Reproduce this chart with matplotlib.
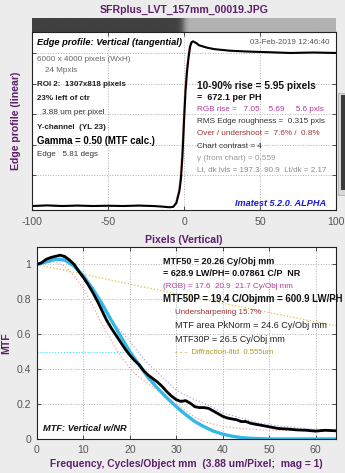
import numpy as np
import matplotlib
matplotlib.use('Agg')
import matplotlib.pyplot as plt
from matplotlib.patches import Rectangle

plt.rcParams['font.family'] = ['Liberation Sans', 'DejaVu Sans']
plt.rcParams['axes.unicode_minus'] = False

W, H = 345, 473

# ---- data ----
title = 'SFRplus_LVT_157mm_00019.JPG'

# edge profile (pixels, normalized level)
edge_px = [-100, -90, -80, -70, -60, -50, -40, -30, -20, -14, -11, -9, -7, -5, -4, -3, -2, -1,
           0, 1, 2, 3, 4, 5, 6, 8, 10, 15, 20, 30, 40, 55, 70, 85, 100]
edge_val = [0.0, 0.004, 0.0, 0.003, 0.0, 0.002, 0.0, 0.003, 0.0, -0.004, -0.007, -0.008, -0.005,
            0.02, 0.06, 0.1, 0.18, 0.33, 0.55, 0.75, 0.88, 0.97, 1.04, 1.07, 1.076, 1.065, 1.05,
            1.035, 1.025, 1.015, 1.01, 1.005, 1.0, 1.003, 1.0]

# MTF curves (cycles/object mm)
f_black = [0, 1, 2, 3, 4, 5, 6, 7, 8, 9, 10, 11, 12, 13, 14, 15, 16, 17, 18, 19, 20, 21, 22, 23,
           24, 25, 26, 27, 28, 29, 30, 31, 32, 33, 34, 35, 36, 37, 38, 39, 40, 41, 42, 43, 44, 45,
           46, 47, 48, 49, 50, 52, 54, 56, 58, 60, 62, 64.4]
mtf_black = [1.0, 1.01, 1.03, 1.04, 1.047, 1.053, 1.045, 1.025, 1.0, 0.96, 0.925, 0.885, 0.84,
             0.79, 0.735, 0.68, 0.635, 0.595, 0.555, 0.515, 0.48, 0.45, 0.425, 0.39, 0.365, 0.345,
             0.325, 0.3, 0.27, 0.245, 0.225, 0.215, 0.22, 0.205, 0.185, 0.18, 0.18, 0.175, 0.16,
             0.145, 0.13, 0.12, 0.115, 0.11, 0.1, 0.1, 0.09, 0.085, 0.08, 0.075, 0.07, 0.06, 0.057,
             0.052, 0.05, 0.045, 0.05, 0.047]

f_cyan = [0, 2, 4, 6, 8, 10, 12, 14, 16, 18, 20, 22, 24, 26, 28, 30, 32, 34, 36, 38, 40, 42, 44,
          46, 48, 50, 64.4]
mtf_cyan = [1.0, 1.015, 1.03, 1.025, 0.99, 0.935, 0.86, 0.775, 0.68, 0.59, 0.5, 0.425, 0.35,
            0.29, 0.235, 0.185, 0.14, 0.1, 0.07, 0.045, 0.028, 0.016, 0.008, 0.004, 0.002, 0.0, 0.0]

f_rgb = [0, 2, 4, 6, 8, 10, 12, 14, 16, 18, 20, 22, 24, 26, 28, 30, 32, 34, 36, 38, 40, 44, 48,
         52, 56, 60, 64.4]
mtf_red = [1.0, 1.01, 1.015, 0.99, 0.935, 0.86, 0.765, 0.655, 0.565, 0.475, 0.405, 0.355, 0.315,
           0.28, 0.24, 0.2, 0.16, 0.125, 0.1, 0.085, 0.072, 0.06, 0.053, 0.05, 0.05, 0.05, 0.05]
mtf_green = [1.0, 1.03, 1.05, 1.055, 1.01, 0.935, 0.85, 0.745, 0.645, 0.56, 0.485, 0.43, 0.37,
             0.33, 0.275, 0.23, 0.22, 0.19, 0.18, 0.165, 0.135, 0.105, 0.085, 0.065, 0.055,
             0.05, 0.05]
mtf_blue = [1.0, 1.02, 1.035, 1.04, 1.005, 0.935, 0.855, 0.755, 0.68, 0.62, 0.56, 0.49, 0.43,
            0.38, 0.33, 0.28, 0.25, 0.225, 0.205, 0.18, 0.15, 0.12, 0.09, 0.075, 0.065, 0.055,
            0.05]

f_diff = [0, 16, 32, 48, 64.4]
mtf_diff = [1.0, 0.91, 0.82, 0.735, 0.648]

mtf50p = 19.4

purple = '#5c1f6b'
magenta = '#b0389c'
darkred = '#a03232'


def fx(x):
    return x / W


def fy(y):
    return 1 - y / H


fig = plt.figure(figsize=(W / 100, H / 100), dpi=100, facecolor='#ececec')

fig.text(fx(184), fy(10), title, ha='center', va='center', fontsize=7.6,
         fontweight='bold', color=purple)

# ---- edge strip (image of the edge) ----
bar = fig.add_axes([fx(32), fy(32), fx(304), 14 / H])
xs = np.linspace(-100, 100, 400)
lv = np.interp(xs, edge_px, edge_val)
lv = np.clip(lv, 0, 1)
bar.imshow(lv[None, :], cmap='gray', vmin=-0.57, vmax=1.70, aspect='auto',
           extent=[-100, 100, 0, 1])
bar.set_axis_off()

# ---- edge profile axes ----
ax1 = fig.add_axes([fx(32), fy(210), fx(304), 178 / H])
ax1.plot(np.array(edge_px) - 0.6, edge_val, color='#f4a0a0', lw=0.8)
ax1.plot(edge_px, edge_val, color='black', lw=1.5)
ax1.set_xlim(-100, 100)
ax1.set_ylim(-0.026, 1.137)
ax1.set_xticks([-100, -50, 0, 50, 100])
ax1.set_yticks([0.2, 0.4, 0.6, 0.8, 1.0])
ax1.set_yticklabels([])
ax1.grid(True, linestyle=':', color='#b0b0b0', lw=0.7)
ax1.tick_params(direction='in', top=True, right=True, length=3, width=0.6,
                labelsize=7.6, colors='#333333', labelcolor='#555555', pad=5)
for s in ax1.spines.values():
    s.set_linewidth(0.8)
    s.set_color('#222222')
ax1.set_xlabel('Pixels (Vertical)', fontsize=7.6, fontweight='bold', color=purple, labelpad=6)
ax1.set_ylabel('Edge profile (linear)', fontsize=7.6, fontweight='bold', color=purple, labelpad=3)

t = ax1.transAxes
def at(x, y):
    return ((x - 32) / 304, (210 - y) / 178)

ax1.text(*at(37, 43), 'Edge profile: Vertical (tangential)', transform=t, fontsize=6.7,
         fontweight='bold', style='italic', va='center')
ax1.text(*at(330, 43), '03-Feb-2019 12:46:40', transform=t, fontsize=5.8, color='#555555',
         ha='right', va='center')
left_lines = [
    (37, 60, '6000 x 4000 pixels (WxH)', '#666666', 'normal', 5.9),
    (45, 71, '24 Mpxls', '#666666', 'normal', 5.9),
    (37, 85, 'ROI 2:  1307x818 pixels', '#222222', 'bold', 5.8),
    (37, 99, '23% left of ctr', '#222222', 'bold', 5.8),
    (42, 113, '3.88 um per pixel', '#333333', 'normal', 5.9),
    (37, 128, 'Y-channel  (YL 23)', '#222222', 'bold', 5.8),
    (37, 141, 'Gamma = 0.50 (MTF calc.)', 'black', 'bold', 6.9),
    (37, 154, 'Edge   5.81 degs', '#333333', 'normal', 5.8),
]
for x, y, s, c, w, fs in left_lines:
    ax1.text(*at(x, y), s, transform=t, fontsize=fs, color=c, fontweight=w, va='center')

right_lines = [
    (197, 86, '10-90% rise = 5.95 pixels', '#111111', 'bold', 7.3),
    (197, 98, '=  672.1 per PH', '#111111', 'bold', 6.5),
    (197, 110, 'RGB rise =   7.05    5.69     5.6 pxls', magenta, 'normal', 5.85),
    (197, 122, 'RMS Edge roughness =  0.315 pxls', '#333333', 'normal', 5.9),
    (197, 134, 'Over / undershoot =  7.6% /  0.8%', darkred, 'normal', 5.9),
    (197, 146, 'Chart contrast = 4', '#333333', 'normal', 5.9),
    (197, 158, '\u03b3 (from chart) = 0.559', '#999999', 'normal', 5.9),
    (197, 170, 'Lt, dk lvls = 197.3  90.9  Lt/dk = 2.17', '#888888', 'normal', 5.8),
]
for x, y, s, c, w, fs in right_lines:
    ax1.text(*at(x, y), s, transform=t, fontsize=fs, color=c, fontweight=w, va='center')
ax1.text(*at(326, 204), 'Imatest 5.2.0. ALPHA', transform=t, fontsize=6.6, color='#1a1ad8',
         fontweight='bold', style='italic', ha='right', va='center')

# stray panel at the right edge
fig.patches.append(Rectangle((fx(338), fy(195)), fx(8), 102 / H, transform=fig.transFigure,
                             facecolor='#d8d8d8', edgecolor='#b0b0b0', lw=0.6))
fig.patches.append(Rectangle((fx(341), fy(190)), fx(5), 95 / H, transform=fig.transFigure,
                             facecolor='#3a3a3a', edgecolor='none'))

# ---- MTF axes ----
ax2 = fig.add_axes([fx(37), fy(439), fx(299), 192 / H])
ax2.plot(f_diff, mtf_diff, color='#d8c040', lw=0.9, ls=':')
ax2.plot([0, mtf50p], [0.5, 0.5], color='#40e0f0', lw=0.8, ls=':')
ax2.plot(f_rgb, mtf_red, color='#f4a0a0', lw=0.9, ls=':')
ax2.plot(f_rgb, mtf_blue, color='#a8a8f4', lw=0.9, ls=':')
ax2.plot(f_rgb, mtf_green, color='#90e090', lw=0.9, ls=':')
ax2.plot(f_cyan, mtf_cyan, color='#33b8ea', lw=2.4)
ax2.plot(f_black, mtf_black, color='black', lw=2.0)
ax2.set_xlim(0, 64.4)
ax2.set_ylim(0, 1.1)
ax2.set_xticks([0, 10, 20, 30, 40, 50, 60])
ax2.set_yticks([0, 0.2, 0.4, 0.6, 0.8, 1.0])
ax2.set_yticklabels(['0', '0.2', '0.4', '0.6', '0.8', '1'])
ax2.grid(True, linestyle=':', color='#b0b0b0', lw=0.7)
ax2.tick_params(direction='in', top=True, right=True, length=3, width=0.6,
                labelsize=7.6, colors='#333333', labelcolor='#555555', pad=4)
for s in ax2.spines.values():
    s.set_linewidth(0.8)
    s.set_color('#222222')
ax2.set_xlabel('Frequency, Cycles/Object mm  (3.88 um/Pixel;  mag = 1)', fontsize=7.4,
               fontweight='bold', color=purple, labelpad=3)
ax2.set_ylabel('MTF', fontsize=7.6, fontweight='bold', color=purple, labelpad=4)

t2 = ax2.transAxes
def at2(x, y):
    return ((x - 37) / 299, (439 - y) / 192)

mtf_lines = [
    (163, 262, 'MTF50 = 20.26 Cy/Obj mm', '#111111', 'bold', 6.5),
    (163, 274, '= 628.9 LW/PH= 0.07861 C/P  NR', '#111111', 'bold', 6.5),
    (163, 286, '(RGB) = 17.6  20.9  21.7 Cy/Obj mm', magenta, 'normal', 5.8),
    (163, 299, 'MTF50P = 19.4 C/Objmm = 600.9 LW/PH', '#111111', 'bold', 6.9),
    (175, 313, 'Undersharpening 15.7%', darkred, 'normal', 5.8),
    (175, 326, 'MTF area PkNorm = 24.6 Cy/Obj mm', '#222222', 'normal', 6.6),
    (175, 340, 'MTF30P = 26.5 Cy/Obj mm', '#222222', 'normal', 6.5),
    (175, 353, '- - -  Diffraction-lltd  0.555um', '#b09a20', 'normal', 5.6),
]
for x, y, s, c, w, fs in mtf_lines:
    ax2.text(*at2(x, y), s, transform=t2, fontsize=fs, color=c, fontweight=w, va='center',
             clip_on=False)
ax2.text(*at2(43, 428), 'MTF: Vertical w/NR', transform=t2, fontsize=6.7, color='#111111',
         fontweight='bold', style='italic', va='center')

fig.savefig('out.png', dpi=100, facecolor=fig.get_facecolor())
